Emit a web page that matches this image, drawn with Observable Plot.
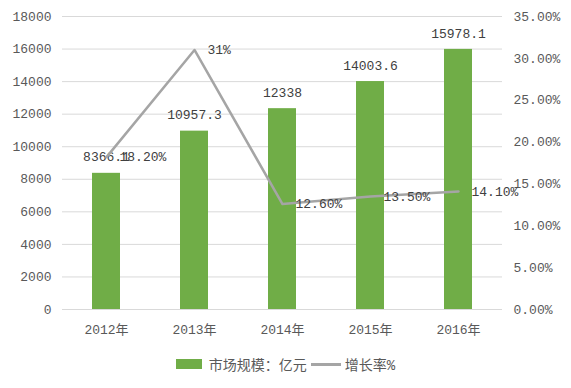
<!DOCTYPE html>
<html><head><meta charset="utf-8">
<script src="https://cdn.jsdelivr.net/npm/d3@7"></script>
<script src="https://cdn.jsdelivr.net/npm/@observablehq/plot@0.6"></script>
<style>
body{margin:0;background:#fff;font-family:"Liberation Mono","Noto Sans CJK SC",monospace;}
#legend{display:flex;justify-content:center;align-items:center;height:22px;margin-top:8px;font-size:14px;color:#595959;}
.sw{display:inline-block;}
</style></head>
<body>
<div id="chart"></div>
<div id="legend">
  <span class="sw" style="width:26px;height:10px;background:#70ad47;margin-right:7px"></span>
  <span id="lg1"></span>
  <span class="sw" style="width:30px;height:3px;background:#a5a5a5;margin:0 4px 0 4px"></span>
  <span id="lg2"></span>
</div>
<script>
const years = ["2012年","2013年","2014年","2015年","2016年"];
const marketSize = [8366.1, 10957.3, 12338, 14003.6, 15978.1];
const marketLabels = ["8366.1","10957.3","12338","14003.6","15978.1"];
const growthRate = [18.2, 31, 12.6, 13.5, 14.1];
const growthLabels = ["18.20%","31%","12.60%","13.50%","14.10%"];
const leftTicks = [0,2000,4000,6000,8000,10000,12000,14000,16000,18000];
const rightTicks = [0,5,10,15,20,25,30,35];
const seriesNames = ["市场规模：亿元","增长率%"];

document.getElementById("lg1").textContent = seriesNames[0];
document.getElementById("lg2").textContent = seriesNames[1];

const yMax = 18000, pMax = 35;
const toY = p => p * yMax / pMax;
const bars = years.map((y,i)=>({year:y, v:marketSize[i], label:marketLabels[i]}));
const pts = years.map((y,i)=>({year:y, p:toY(growthRate[i]), label:growthLabels[i]}));

const chart = Plot.plot({
  width: 571, height: 345,
  marginLeft: 62, marginRight: 69, marginTop: 16, marginBottom: 36,
  style: {fontFamily: '"Liberation Mono","Noto Sans CJK SC",monospace', fontSize: "13px", color:"#595959", background:"#fff"},
  x: {type:"band", domain: years, paddingInner: 0.68, paddingOuter: 0.34, label: null},
  y: {domain:[0,yMax], label: null},
  marks: [
    Plot.gridY(leftTicks, {stroke:"#d9d9d9", strokeOpacity:1, strokeWidth:1}),
    Plot.axisY({ticks: leftTicks, tickSize:0, tickPadding:11, tickFormat: d=>String(d), fill:"#595959"}),
    Plot.axisY({anchor:"right", ticks: rightTicks.map(toY), tickSize:0, tickPadding:11, textAnchor:"start",
      tickFormat: d => (d*pMax/yMax).toFixed(2)+"%", fill:"#595959", label:null}),
    Plot.axisX({tickSize:0, tickPadding:15, fill:"#595959", label:null}),
    Plot.barY(bars, {x:"year", y:"v", fill:"#70ad47"}),
    Plot.text(bars, {x:"year", y:"v", text:"label", dy:-16, fill:"#404040"}),
    Plot.line(pts, {x:"year", y:"p", stroke:"#a5a5a5", strokeWidth:2.5}),
    Plot.text(pts, {x:"year", y:"p", text:"label", dx:13, textAnchor:"start", fill:"#404040"})
  ]
});
document.getElementById("chart").appendChild(chart);
</script>
</body></html>
